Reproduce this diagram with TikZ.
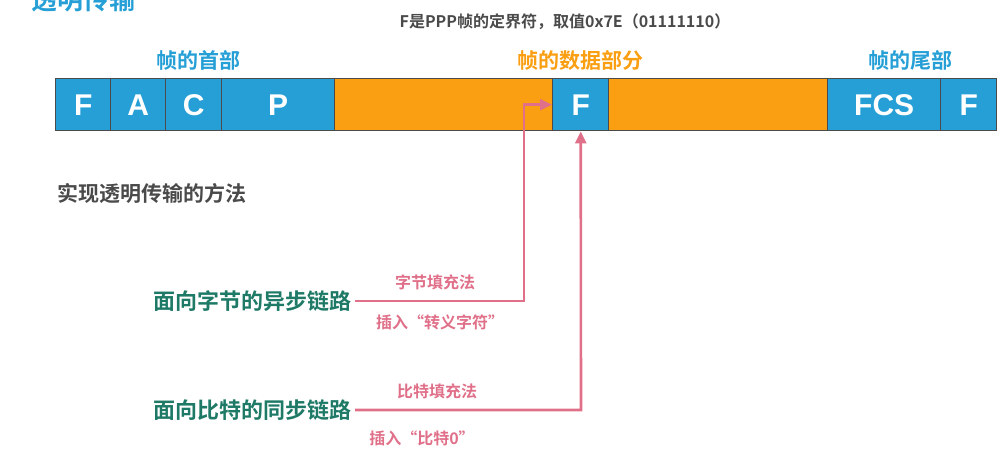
\documentclass[tikz,border=0pt]{standalone}
\usepackage{fontspec}
\usetikzlibrary{arrows.meta}
\setmainfont{Liberation Sans}
\newfontfamily\cjk{Noto Sans CJK SC Bold}
\definecolor{fblue}{HTML}{259FD6}
\definecolor{forange}{HTML}{FA9E12}
\definecolor{fpink}{HTML}{E07089}
\definecolor{fteal}{HTML}{1E7A66}
\definecolor{fgray}{HTML}{4A4A4A}
\begin{document}
\begin{tikzpicture}[x=1pt,y=-1pt,
	field/.style={draw=fgray, line width=1.4pt, inner sep=0pt, minimum height=52pt, anchor=north west},
	letter/.style={text=white, font=\bfseries\fontsize{30}{30}\selectfont},
	part/.style={font=\cjk\fontsize{21}{21}\selectfont},
	way/.style={font=\cjk\fontsize{22}{22}\selectfont, text=fteal},
	note/.style={font=\cjk\fontsize{16}{16}\selectfont, text=fpink},
	link/.style={draw=fpink, line width=2.6pt, -{Triangle[length=12pt,width=11pt,fill=fpink]}}]
	\useasboundingbox (0,0) rectangle (999,458);
	% Frame fields
	\foreach \a/\b/\c/\t/\n in {55/110/fblue/F/f1, 110/165/fblue/A/fa, 165/221/fblue/C/fc,
		221/334/fblue/P/fp, 334/552/forange//d1, 552/608/fblue/F/f2, 608/827/forange//d2,
		827/940/fblue/FCS/fcs, 940/996/fblue/F/f3}
		\node (\n) [field, letter, fill=\c, minimum width={(\b-\a)*1pt}] at (\a,78) {\t};
	% Labels above the frame
	\node (title) [anchor=west, text=fblue, font=\cjk\fontsize{26}{26}\selectfont] at (28,0) {透明传输};
	\node (flag) [font=\cjk\fontsize{16}{16}\selectfont, text=fgray] at (565,22)
		{F是PPP帧的定界符，取值0x7E（01111110）};
	\node (head) [part, text=fblue] at (198,60) {帧的首部};
	\node (data) [part, text=forange] at (580,60) {帧的数据部分};
	\node (tail) [part, text=fblue] at (910,60) {帧的尾部};
	% Methods
	\node (method) [anchor=west, font=\cjk\fontsize{21}{21}\selectfont, text=fgray] at (54,193) {实现透明传输的方法};
	\node (byte) [way, anchor=east] at (355,301) {面向字节的异步链路};
	\node (bit) [way, anchor=east] at (355,410) {面向比特的同步链路};
	\coordinate (byteturn) at (524,301);
	\coordinate (bitturn) at (581,410);
	\draw[link] (byte.east) -- (byteturn) |- (f2.west);
	\draw[link] (bit.east) -- (bitturn) -- (f2.south);
	\node (bytefill) [note] at (435,282) {字节填充法};
	\node (escape) [note] at (440,322) {插入“转义字符”};
	\node (bitfill) [note] at (437,391) {比特填充法};
	\node (zero) [note] at (422,438) {插入“比特0”};
\end{tikzpicture}
\end{document}
